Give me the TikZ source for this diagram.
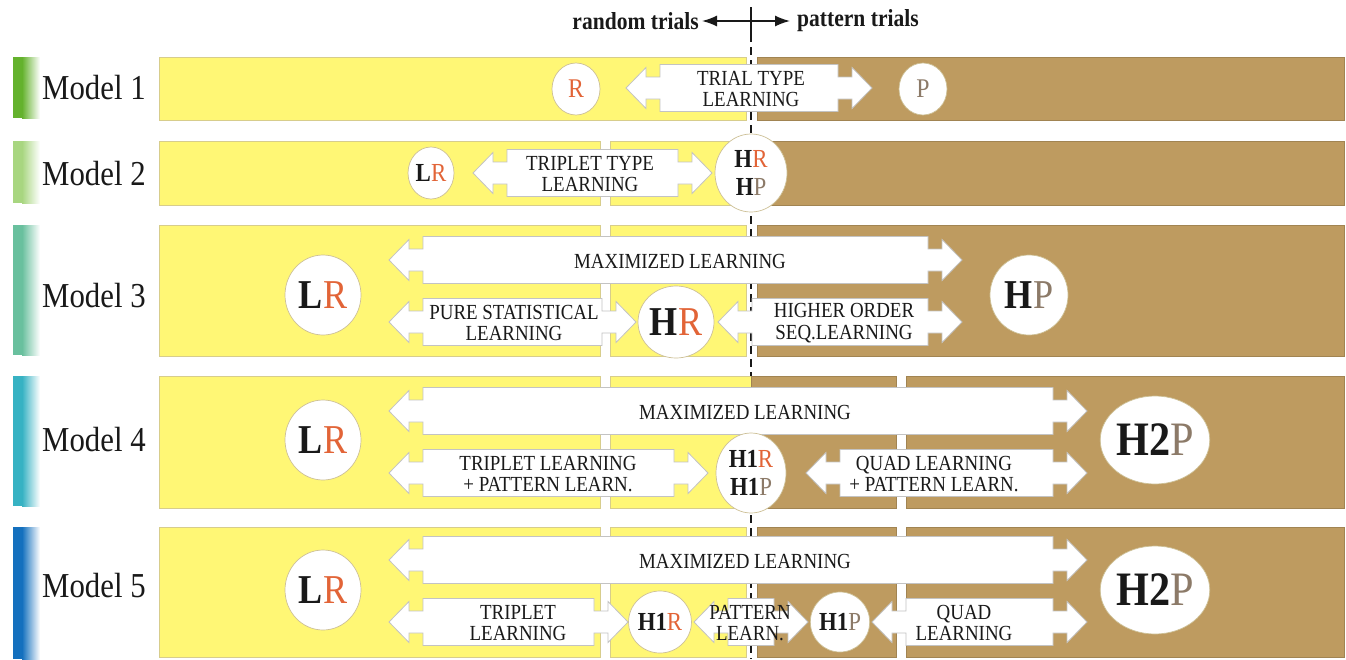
\documentclass[tikz,border=0pt]{standalone}
\usepackage{fontspec}
\setmainfont[FakeStretch=0.88]{Liberation Serif}
\usetikzlibrary{shapes.geometric,arrows.meta}
\definecolor{ybar}{RGB}{255,247,117}
\definecolor{ybord}{RGB}{215,205,140}
\definecolor{bbar}{RGB}{190,155,96}
\definecolor{rcol}{RGB}{226,100,55}
\definecolor{pcol}{RGB}{140,122,104}
\definecolor{abord}{RGB}{195,195,195}
\definecolor{cbord}{RGB}{205,192,150}
\definecolor{txt}{RGB}{25,25,25}
\definecolor{sA}{RGB}{100,178,45}
\definecolor{sB}{RGB}{168,214,128}
\definecolor{sC}{RGB}{105,192,158}
\definecolor{sD}{RGB}{55,178,195}
\definecolor{sE}{RGB}{20,112,190}
\newcommand\blockarrow[3]{%
 \pgfmathsetmacro\bxa{#1+20}\pgfmathsetmacro\bxb{#1+34}%
 \pgfmathsetmacro\bxc{#2-34}\pgfmathsetmacro\bxd{#2-20}%
 \pgfmathsetmacro\byt{#3-23.5}\pgfmathsetmacro\byb{#3+23.5}%
 \pgfmathsetmacro\byht{#3-20.5}\pgfmathsetmacro\byhb{#3+20.5}%
 \pgfmathsetmacro\bynt{#3-11}\pgfmathsetmacro\bynb{#3+11}%
 \draw[arrowbox] (#1,#3) -- (\bxa,\byht) -- (\bxa,\bynt) -- (\bxb,\bynt) -- (\bxb,\byt) -- (\bxc,\byt) -- (\bxc,\bynt) -- (\bxd,\bynt) -- (\bxd,\byht) -- (#2,#3) -- (\bxd,\byhb) -- (\bxd,\bynb) -- (\bxc,\bynb) -- (\bxc,\byb) -- (\bxb,\byb) -- (\bxb,\bynb) -- (\bxa,\bynb) -- (\bxa,\byhb) -- cycle;}
\begin{document}
\begin{tikzpicture}[x=1pt,y=-1pt,
  ybox/.style={fill=ybar,draw=ybord,line width=0.7pt},
  bbox/.style={fill=bbar,draw=bbar!85!black,line width=0.5pt},
  arrowbox/.style={fill=white,draw=abord,line width=0.8pt},
  circ/.style={ellipse,fill=white,draw=cbord,line width=0.7pt,inner sep=0pt,align=center,text=txt},
  atext/.style={align=center,text=txt,font=\fontsize{21.5}{21.5}\selectfont,inner sep=0pt},
  mlabel/.style={anchor=west,text=txt,font=\fontsize{35}{37}\selectfont,inner sep=0pt},
  small/.style={font=\fontsize{27}{28}\selectfont},
  mid/.style={font=\fontsize{26}{28}\selectfont},
  big/.style={font=\fontsize{41}{44}\selectfont},
  huge/.style={font=\fontsize{48}{50}\selectfont}]
\useasboundingbox (0,0) rectangle (1346,659);
\fill[white] (0,0) rectangle (1346,659);

% left colour strips
\foreach \c/\ya/\yb in {sA/57/118,sB/141/203,sC/225/355,sD/376/506,sE/527/659}{
  \fill[\c] (13,\ya) rectangle (22,\yb);
  \shade[left color=\c,right color=white] (22,\ya) rectangle (40,\yb);
}

% header
\node[anchor=east,inner sep=0pt,text=txt,font=\bfseries\fontsize{24.5}{26}\selectfont] (rt) at (699,21) {random trials};
\node[anchor=west,inner sep=0pt,text=txt,font=\bfseries\fontsize{24.5}{26}\selectfont] (pt) at (797,21) {pattern trials};
\draw[{Latex[length=15pt,width=11pt]}-{Latex[length=15pt,width=11pt]},line width=1.5pt,txt] (rt.east) ++(3,0) coordinate (ra) -- ([xshift=-7pt]pt.west) coordinate (pa);
\coordinate (tt) at (751,7);
\coordinate (tb) at (751,34);
\coordinate (db) at (751,659);
\draw[line width=1.3pt,txt] (tt) -- (tb);
\draw[line width=1.3pt,txt,dash pattern=on 8pt off 5pt] (tb) -- (db);

% bars
\draw[ybox] (159,57) rectangle (746,120);
\draw[bbox] (757,57) rectangle (1344,120);
\draw[ybox] (159,141) rectangle (600,205);
\draw[ybox] (610,141) rectangle (746,205);
\draw[bbox] (757,141) rectangle (1344,205);
\draw[ybox] (159,225) rectangle (600,356);
\draw[ybox] (610,225) rectangle (746,356);
\draw[bbox] (757,225) rectangle (1344,356);
\draw[ybox] (159,376) rectangle (600,508);
\draw[ybox] (610,376) rectangle (751,508);
\draw[bbox] (751,376) rectangle (896,508);
\draw[bbox] (906,376) rectangle (1344,508);
\draw[ybox] (159,527) rectangle (600,657);
\draw[ybox] (610,527) rectangle (746,657);
\draw[bbox] (757,527) rectangle (896,657);
\draw[bbox] (906,527) rectangle (1344,657);

% model labels
\node[mlabel] (l1) at (42,88) {Model 1};
\node[mlabel] (l2) at (42,174) {Model 2};
\node[mlabel] (l3) at (42,296) {Model 3};
\node[mlabel] (l4) at (42,440) {Model 4};
\node[mlabel] (l5) at (42,586) {Model 5};

% block arrows
\blockarrow{626}{872}{88}
\blockarrow{473}{712}{173}
\blockarrow{389}{962}{260}
\blockarrow{389}{636}{322}
\blockarrow{718}{962}{322}
\blockarrow{389}{1087}{411}
\blockarrow{389}{708}{473}
\blockarrow{806}{1087}{473}
\blockarrow{389}{1087}{560}
\blockarrow{389}{628}{622}
\blockarrow{694}{808}{622}
\blockarrow{872}{1087}{622}

% arrow texts
\node[atext] (a1) at (751,89) {TRIAL TYPE\\LEARNING};
\node[atext] (a2) at (590,174) {TRIPLET TYPE\\LEARNING};
\node[atext] (a3) at (680,261) {MAXIMIZED LEARNING};
\node[atext] (a4) at (514,323) {PURE STATISTICAL\\LEARNING};
\node[atext] (a5) at (844,323) {HIGHER ORDER\\SEQ.LEARNING};
\node[atext] (a6) at (745,412) {MAXIMIZED LEARNING};
\node[atext] (a7) at (548,474) {TRIPLET LEARNING\\+ PATTERN LEARN.};
\node[atext] (a8) at (934,474) {QUAD LEARNING\\+ PATTERN LEARN.};
\node[atext] (a9) at (745,561) {MAXIMIZED LEARNING};
\node[atext] (a10) at (518,623) {TRIPLET\\LEARNING};
\node[atext] (a11) at (750,623) {PATTERN\\LEARN.};
\node[atext] (a12) at (964,623) {QUAD\\LEARNING};

% circles
\node[circ,small,minimum width=48pt,minimum height=52pt] (c1r) at (576,89) {\color{rcol}R};
\node[circ,small,minimum width=48pt,minimum height=52pt] (c1p) at (923,89) {\color{pcol}P};
\node[circ,font=\fontsize{26}{28}\selectfont,minimum width=46pt,minimum height=52pt] (c2l) at (431,173) {\textbf{L}\textcolor{rcol}{R}};
\node[circ,mid,minimum width=72pt,minimum height=78pt] (c2h) at (751,173) {\textbf{H}\textcolor{rcol}{R}\\\textbf{H}\textcolor{pcol}{P}};
\node[circ,big,minimum width=76pt,minimum height=80pt] (c3l) at (323,295) {\textbf{L}\textcolor{rcol}{R}};
\node[circ,big,minimum width=76pt,minimum height=72pt] (c3h) at (676,322) {\textbf{H}\textcolor{rcol}{R}};
\node[circ,big,minimum width=78pt,minimum height=80pt] (c3p) at (1029,295) {\textbf{H}\textcolor{pcol}{P}};
\node[circ,big,minimum width=76pt,minimum height=80pt] (c4l) at (323,440) {\textbf{L}\textcolor{rcol}{R}};
\node[circ,mid,minimum width=70pt,minimum height=80pt] (c4h) at (751,473) {\textbf{H1}\textcolor{rcol}{R}\\\textbf{H1}\textcolor{pcol}{P}};
\node[circ,huge,minimum width=90pt,minimum height=88pt] (c4p) at (1155,440) {\textbf{H2}\textcolor{pcol}{P}};
\node[circ,big,minimum width=76pt,minimum height=80pt] (c5l) at (323,590) {\textbf{L}\textcolor{rcol}{R}};
\node[circ,mid,minimum width=56pt,minimum height=62pt] (c5r) at (660,622) {\textbf{H1}\textcolor{rcol}{R}};
\node[circ,mid,minimum width=54pt,minimum height=60pt] (c5q) at (840,622) {\textbf{H1}\textcolor{pcol}{P}};
\node[circ,huge,minimum width=90pt,minimum height=88pt] (c5p) at (1155,590) {\textbf{H2}\textcolor{pcol}{P}};
\end{tikzpicture}
\end{document}
